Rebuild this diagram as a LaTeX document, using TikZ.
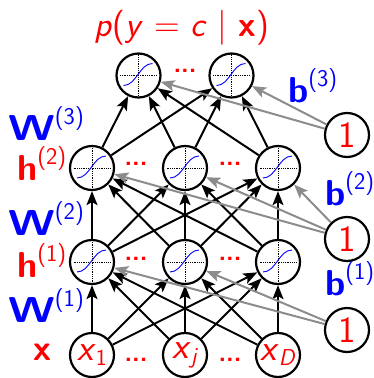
\documentclass[tikz,border=0pt]{standalone}
\usepackage{fontspec}
\usetikzlibrary{arrows.meta}
\renewcommand\familydefault{\sfdefault}
\newcommand\supx[1]{\raisebox{16pt}{\fontsize{24}{24}\selectfont\mdseries #1}}
\newcommand\subx[1]{\raisebox{-5pt}{\fontsize{23}{23}\selectfont #1}}
\definecolor{myred}{rgb}{1,0,0}
\definecolor{myblue}{rgb}{0,0,1}
\definecolor{mygray}{gray}{0.55}
\tikzset{
  unit/.style={circle, draw=black, line width=2.2pt, minimum size=44pt, inner sep=0pt,
    font=\fontsize{37}{37}\selectfont, text=myred},
  sig/.style={unit, path picture={
    \draw[densely dotted, line width=0.8pt] ([xshift=-18.5pt]path picture bounding box.center) -- ++(37pt,0pt);
    \draw[densely dotted, line width=0.8pt] ([yshift=-22pt]path picture bounding box.center) -- ++(0pt,44pt);
    \draw[myblue, line width=0.9pt] ([shift={(-15pt,-10pt)}]path picture bounding box.center)
       .. controls ++(13pt,0pt) and ++(-13pt,0pt) .. ++(29pt,22pt);
  }},
  arr/.style={line width=2pt, -{Stealth[length=14pt,width=11pt,inset=3pt]}},
  garr/.style={arr, draw=mygray, color=mygray},
  lbl/.style={anchor=base west, inner sep=0pt, font=\fontsize{36}{36}\selectfont\bfseries},
  dts/.style={text=myred, inner sep=0pt, font=\fontsize{25}{25}\selectfont\bfseries},
}
\begin{document}
\begin{tikzpicture}[x=1pt,y=-1pt]
\useasboundingbox (0,0) rectangle (373,378);
% input
\node[unit] (i1) at (92,355) {\textit{x}\subx{1}};
\node[unit] (i2) at (185,355) {\textit{x}\subx{\textit{j}}};
\node[unit] (i3) at (278,355) {\textit{x}\subx{\textit{D}}};
% hidden 1
\node[sig] (a1) at (92,262) {};
\node[sig] (a2) at (185,262) {};
\node[sig] (a3) at (278,262) {};
% hidden 2
\node[sig] (b1) at (92,168) {};
\node[sig] (b2) at (185,168) {};
\node[sig] (b3) at (278,168) {};
% output
\node[sig] (o1) at (138.5,75.5) {};
\node[sig] (o2) at (231.5,75.5) {};
% bias
\node[unit] (c3) at (347,135) {1};
\node[unit] (c2) at (347,239) {1};
\node[unit] (c1) at (347,330) {1};
% dots
\node[dts] (d1) at (136,360) {...};
\node[dts] (d2) at (230,360) {...};
\node[dts] (d3) at (136,259) {...};
\node[dts] (d4) at (230,259) {...};
\node[dts] (d5) at (136,164) {...};
\node[dts] (d6) at (230,164) {...};
\node[dts] (d7) at (185,71) {...};
% black arrows
\foreach \s in {i1,i2,i3}{\foreach \t in {a1,a2,a3}{\draw[arr] (\s) -- (\t);}}
\foreach \s in {a1,a2,a3}{\foreach \t in {b1,b2,b3}{\draw[arr] (\s) -- (\t);}}
\foreach \s in {b1,b2,b3}{\foreach \t in {o1,o2}{\draw[arr] (\s) -- (\t);}}
% gray bias arrows
\draw[garr] (c1) -- (a1);
\draw[garr] (c1) -- (a2);
\draw[garr] (c2) -- (b1);
\draw[garr] (c2) -- (b2);
\draw[garr] (c2) -- (b3);
\draw[garr] (c3) -- (o1);
\draw[garr] (c3) -- (o2);
% labels
\node[anchor=base west, inner sep=0pt, text=myred, font=\fontsize{35}{35}\selectfont] (title) at (94,36)
  {\textit{p}(\textit{y} = \textit{c} | \textbf{x})};
\node[lbl, text=myblue] (lw3) at (8,140) {\scalebox{1.25}[1]{W}\supx{(3)}};
\node[lbl, text=myblue] (lw2) at (8,235) {\scalebox{1.25}[1]{W}\supx{(2)}};
\node[lbl, text=myblue] (lw1) at (8,322) {\scalebox{1.25}[1]{W}\supx{(1)}};
\node[lbl, text=myred] (lh2) at (17,180) {h\supx{(2)}};
\node[lbl, text=myred] (lh1) at (17,277) {h\supx{(1)}};
\node[lbl, text=myred] (lx) at (33,360) {x};
\node[lbl, text=myblue] (lb3) at (288,102) {b\supx{(3)}};
\node[lbl, text=myblue] (lb2) at (325,205) {b\supx{(2)}};
\node[lbl, text=myblue] (lb1) at (325,295) {b\supx{(1)}};
\end{tikzpicture}
\end{document}
